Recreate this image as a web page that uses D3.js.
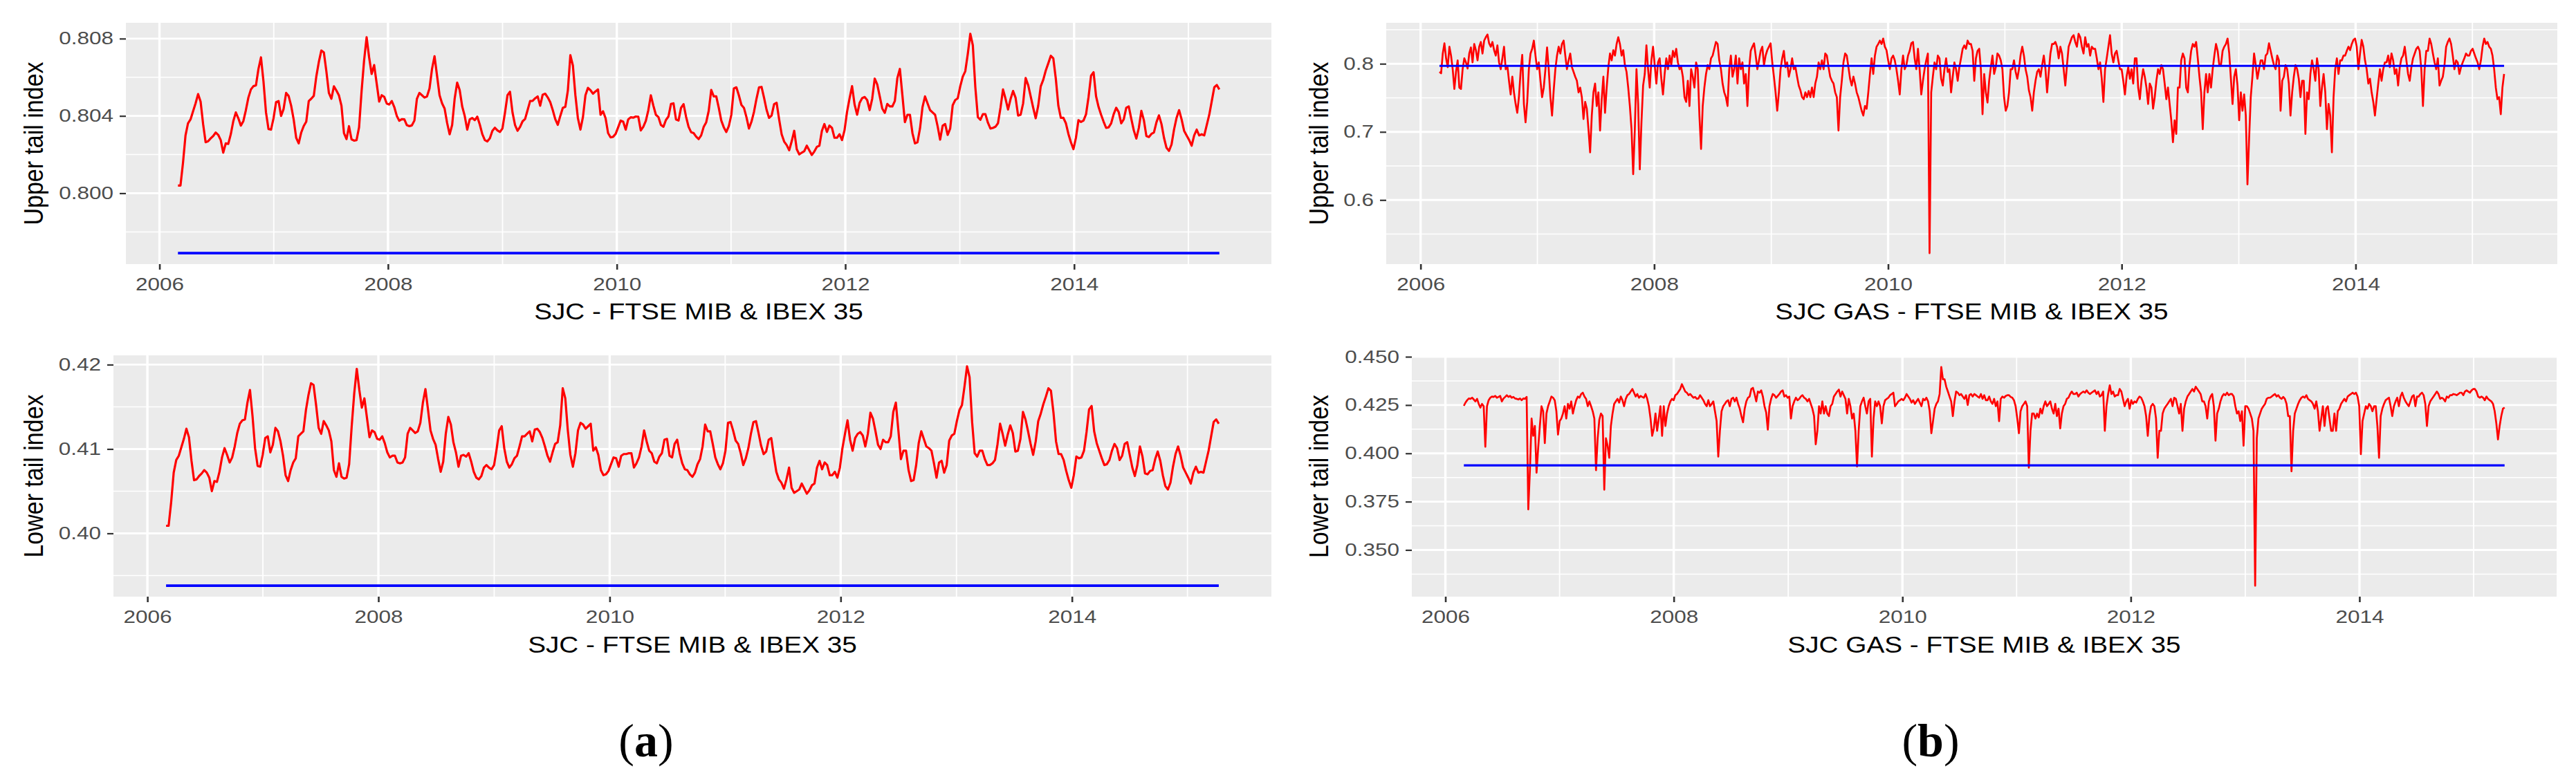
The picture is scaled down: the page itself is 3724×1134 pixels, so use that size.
<!DOCTYPE html>
<html>
<head>
<meta charset="utf-8">
<script src="https://cdn.jsdelivr.net/npm/d3@7"></script>
<style>
  body { margin: 0; background: #fff; }
  text { font-family: 'Liberation Sans', Arial, Helvetica, sans-serif; }
</style>
</head>
<body>
<svg id="container" width="3724" height="1134"></svg>

<script>
// observation window shared by all four series (values are evenly spaced in it)
const firstDay = '2006-03-01';
const lastDay = '2015-04-10';

const xTickYears = [2006, 2008, 2010, 2012, 2014];
const xMinorYears = [2007, 2009, 2011, 2013, 2015];

// static SJC tail dependence (blue lines)
const staticUpper = 0.7969;
const staticLower = 0.3938;

// (a) SJC - FTSE MIB & IBEX 35, upper tail
const sjcUpper = [
  0.80040, 0.80040, 0.80157, 0.80299, 0.80362, 0.80382, 0.80424, 0.80465, 0.80513, 0.80474,
  0.80358, 0.80264, 0.80269, 0.80284, 0.80296, 0.80314, 0.80302, 0.80275, 0.80210, 0.80258,
  0.80255, 0.80305, 0.80373, 0.80418, 0.80388, 0.80350, 0.80373, 0.80430, 0.80495, 0.80537,
  0.80554, 0.80558, 0.80643, 0.80703, 0.80578, 0.80418, 0.80332, 0.80329, 0.80388, 0.80471,
  0.80477, 0.80400, 0.80436, 0.80519, 0.80503, 0.80453, 0.80382, 0.80287, 0.80258, 0.80314,
  0.80348, 0.80370, 0.80477, 0.80489, 0.80504, 0.80604, 0.80679, 0.80738, 0.80729, 0.80631,
  0.80519, 0.80489, 0.80553, 0.80531, 0.80506, 0.80453, 0.80311, 0.80280, 0.80347, 0.80279,
  0.80272, 0.80275, 0.80341, 0.80528, 0.80687, 0.80807, 0.80703, 0.80617, 0.80663, 0.80568,
  0.80474, 0.80507, 0.80499, 0.80464, 0.80459, 0.80477, 0.80446, 0.80400, 0.80375, 0.80383,
  0.80382, 0.80352, 0.80347, 0.80351, 0.80376, 0.80489, 0.80519, 0.80507, 0.80495, 0.80501,
  0.80542, 0.80643, 0.80709, 0.80608, 0.80507, 0.80465, 0.80438, 0.80364, 0.80305, 0.80353,
  0.80489, 0.80572, 0.80534, 0.80449, 0.80400, 0.80329, 0.80382, 0.80389, 0.80378, 0.80396,
  0.80355, 0.80305, 0.80275, 0.80268, 0.80284, 0.80323, 0.80339, 0.80325, 0.80317, 0.80335,
  0.80416, 0.80507, 0.80525, 0.80418, 0.80353, 0.80323, 0.80343, 0.80372, 0.80384, 0.80430,
  0.80477, 0.80478, 0.80491, 0.80501, 0.80453, 0.80510, 0.80515, 0.80496, 0.80471, 0.80430,
  0.80383, 0.80354, 0.80400, 0.80442, 0.80447, 0.80531, 0.80714, 0.80661, 0.80507, 0.80388,
  0.80329, 0.80394, 0.80507, 0.80545, 0.80533, 0.80515, 0.80527, 0.80537, 0.80406, 0.80424,
  0.80388, 0.80311, 0.80289, 0.80292, 0.80307, 0.80341, 0.80376, 0.80370, 0.80329, 0.80382,
  0.80393, 0.80391, 0.80397, 0.80396, 0.80325, 0.80344, 0.80374, 0.80430, 0.80507, 0.80453,
  0.80406, 0.80394, 0.80353, 0.80344, 0.80379, 0.80397, 0.80462, 0.80465, 0.80382, 0.80376,
  0.80442, 0.80461, 0.80396, 0.80344, 0.80316, 0.80311, 0.80293, 0.80280, 0.80299, 0.80343,
  0.80367, 0.80426, 0.80534, 0.80501, 0.80501, 0.80442, 0.80376, 0.80341, 0.80317, 0.80347,
  0.80406, 0.80542, 0.80548, 0.80506, 0.80457, 0.80442, 0.80394, 0.80335, 0.80370, 0.80421,
  0.80489, 0.80548, 0.80550, 0.80494, 0.80432, 0.80390, 0.80402, 0.80461, 0.80468, 0.80382,
  0.80305, 0.80267, 0.80249, 0.80222, 0.80269, 0.80323, 0.80228, 0.80201, 0.80210, 0.80218,
  0.80246, 0.80222, 0.80198, 0.80216, 0.80240, 0.80246, 0.80323, 0.80358, 0.80317, 0.80350,
  0.80338, 0.80287, 0.80287, 0.80305, 0.80275, 0.80326, 0.80421, 0.80491, 0.80554, 0.80459,
  0.80406, 0.80468, 0.80492, 0.80498, 0.80482, 0.80430, 0.80489, 0.80593, 0.80563, 0.80501,
  0.80438, 0.80416, 0.80462, 0.80449, 0.80449, 0.80477, 0.80596, 0.80643, 0.80507, 0.80368,
  0.80406, 0.80406, 0.80311, 0.80258, 0.80264, 0.80335, 0.80446, 0.80501, 0.80465, 0.80430,
  0.80418, 0.80406, 0.80347, 0.80277, 0.80349, 0.80358, 0.80302, 0.80335, 0.80455, 0.80482,
  0.80491, 0.80553, 0.80603, 0.80631, 0.80721, 0.80825, 0.80766, 0.80548, 0.80394, 0.80380,
  0.80409, 0.80409, 0.80365, 0.80335, 0.80338, 0.80344, 0.80362, 0.80442, 0.80537, 0.80489,
  0.80433, 0.80487, 0.80529, 0.80494, 0.80402, 0.80406, 0.80465, 0.80596, 0.80560, 0.80501,
  0.80442, 0.80388, 0.80453, 0.80553, 0.80587, 0.80635, 0.80672, 0.80711, 0.80698, 0.80592,
  0.80453, 0.80390, 0.80390, 0.80362, 0.80307, 0.80264, 0.80228, 0.80287, 0.80378, 0.80369,
  0.80376, 0.80408, 0.80497, 0.80608, 0.80626, 0.80501, 0.80446, 0.80406, 0.80370, 0.80338,
  0.80341, 0.80362, 0.80409, 0.80442, 0.80420, 0.80362, 0.80382, 0.80442, 0.80449, 0.80385,
  0.80325, 0.80283, 0.80338, 0.80426, 0.80378, 0.80296, 0.80291, 0.80307, 0.80314, 0.80367,
  0.80403, 0.80358, 0.80287, 0.80235, 0.80219, 0.80252, 0.80330, 0.80390, 0.80430, 0.80382,
  0.80323, 0.80299, 0.80275, 0.80246, 0.80299, 0.80329, 0.80299, 0.80305, 0.80299, 0.80353,
  0.80406, 0.80477, 0.80548, 0.80560, 0.80537
];

// (a) SJC - FTSE MIB & IBEX 35, lower tail
const sjcLower = [
  0.4009, 0.4009, 0.4037, 0.4072, 0.4087, 0.4092, 0.4102, 0.4112, 0.4124, 0.4114,
  0.4086, 0.4063, 0.4064, 0.4068, 0.4071, 0.4075, 0.4072, 0.4066, 0.4050, 0.4062,
  0.4061, 0.4073, 0.4090, 0.4101, 0.4093, 0.4084, 0.4090, 0.4103, 0.4119, 0.4130,
  0.4134, 0.4135, 0.4155, 0.4170, 0.4139, 0.4101, 0.4080, 0.4079, 0.4093, 0.4113,
  0.4115, 0.4096, 0.4105, 0.4125, 0.4121, 0.4109, 0.4092, 0.4069, 0.4062, 0.4075,
  0.4084, 0.4089, 0.4115, 0.4118, 0.4121, 0.4146, 0.4164, 0.4178, 0.4176, 0.4152,
  0.4125, 0.4118, 0.4133, 0.4128, 0.4122, 0.4109, 0.4075, 0.4067, 0.4083, 0.4067,
  0.4065, 0.4066, 0.4082, 0.4127, 0.4166, 0.4195, 0.4170, 0.4149, 0.4160, 0.4137,
  0.4114, 0.4122, 0.4120, 0.4112, 0.4111, 0.4115, 0.4107, 0.4096, 0.4090, 0.4092,
  0.4092, 0.4084, 0.4083, 0.4084, 0.4090, 0.4118, 0.4125, 0.4122, 0.4119, 0.4121,
  0.4131, 0.4155, 0.4171, 0.4147, 0.4122, 0.4112, 0.4105, 0.4088, 0.4073, 0.4085,
  0.4118, 0.4138, 0.4129, 0.4108, 0.4096, 0.4079, 0.4092, 0.4093, 0.4091, 0.4095,
  0.4085, 0.4073, 0.4066, 0.4064, 0.4068, 0.4078, 0.4081, 0.4078, 0.4076, 0.4081,
  0.4100, 0.4122, 0.4127, 0.4101, 0.4085, 0.4078, 0.4082, 0.4089, 0.4092, 0.4103,
  0.4115, 0.4115, 0.4118, 0.4121, 0.4109, 0.4123, 0.4124, 0.4120, 0.4113, 0.4103,
  0.4092, 0.4085, 0.4096, 0.4106, 0.4108, 0.4128, 0.4172, 0.4160, 0.4122, 0.4093,
  0.4079, 0.4095, 0.4122, 0.4131, 0.4129, 0.4124, 0.4127, 0.4130, 0.4098, 0.4102,
  0.4093, 0.4075, 0.4069, 0.4070, 0.4074, 0.4082, 0.4090, 0.4089, 0.4079, 0.4092,
  0.4094, 0.4094, 0.4095, 0.4095, 0.4078, 0.4083, 0.4090, 0.4103, 0.4122, 0.4109,
  0.4098, 0.4095, 0.4085, 0.4083, 0.4091, 0.4095, 0.4111, 0.4112, 0.4092, 0.4090,
  0.4106, 0.4111, 0.4095, 0.4083, 0.4076, 0.4075, 0.4070, 0.4067, 0.4072, 0.4082,
  0.4088, 0.4103, 0.4129, 0.4121, 0.4121, 0.4106, 0.4090, 0.4082, 0.4076, 0.4083,
  0.4098, 0.4131, 0.4132, 0.4122, 0.4110, 0.4106, 0.4095, 0.4081, 0.4089, 0.4101,
  0.4118, 0.4132, 0.4133, 0.4119, 0.4104, 0.4094, 0.4097, 0.4111, 0.4113, 0.4092,
  0.4073, 0.4064, 0.4060, 0.4053, 0.4064, 0.4078, 0.4054, 0.4048, 0.4050, 0.4052,
  0.4059, 0.4053, 0.4047, 0.4051, 0.4057, 0.4059, 0.4078, 0.4086, 0.4076, 0.4084,
  0.4081, 0.4069, 0.4069, 0.4073, 0.4066, 0.4078, 0.4101, 0.4118, 0.4134, 0.4111,
  0.4098, 0.4113, 0.4118, 0.4120, 0.4116, 0.4103, 0.4118, 0.4143, 0.4136, 0.4121,
  0.4105, 0.4100, 0.4111, 0.4108, 0.4108, 0.4115, 0.4144, 0.4155, 0.4122, 0.4088,
  0.4098, 0.4098, 0.4075, 0.4062, 0.4063, 0.4081, 0.4107, 0.4121, 0.4112, 0.4103,
  0.4101, 0.4098, 0.4083, 0.4066, 0.4084, 0.4086, 0.4072, 0.4081, 0.4110, 0.4116,
  0.4118, 0.4133, 0.4146, 0.4152, 0.4174, 0.4198, 0.4185, 0.4132, 0.4095, 0.4091,
  0.4098, 0.4098, 0.4088, 0.4081, 0.4081, 0.4083, 0.4087, 0.4106, 0.4130, 0.4118,
  0.4104, 0.4117, 0.4128, 0.4119, 0.4097, 0.4098, 0.4112, 0.4144, 0.4135, 0.4121,
  0.4106, 0.4093, 0.4109, 0.4133, 0.4142, 0.4153, 0.4162, 0.4172, 0.4169, 0.4143,
  0.4109, 0.4094, 0.4094, 0.4087, 0.4074, 0.4063, 0.4054, 0.4069, 0.4091, 0.4089,
  0.4090, 0.4098, 0.4120, 0.4147, 0.4151, 0.4121, 0.4107, 0.4098, 0.4089, 0.4081,
  0.4082, 0.4087, 0.4098, 0.4106, 0.4101, 0.4087, 0.4092, 0.4106, 0.4108, 0.4093,
  0.4078, 0.4068, 0.4081, 0.4103, 0.4091, 0.4071, 0.4070, 0.4074, 0.4075, 0.4088,
  0.4097, 0.4086, 0.4069, 0.4056, 0.4052, 0.4060, 0.4079, 0.4094, 0.4103, 0.4092,
  0.4078, 0.4072, 0.4066, 0.4059, 0.4072, 0.4079, 0.4072, 0.4073, 0.4072, 0.4085,
  0.4098, 0.4115, 0.4132, 0.4135, 0.4130
];

// (b) SJC GAS - FTSE MIB & IBEX 35, upper tail
const gasUpper = [
  0.788, 0.786, 0.815, 0.830, 0.808, 0.795, 0.825, 0.812, 0.792, 0.763, 0.788, 0.805, 0.765, 0.763, 0.792, 0.808, 0.802, 0.793, 0.815, 0.824,
  0.802, 0.829, 0.820, 0.805, 0.825, 0.832, 0.815, 0.834, 0.839, 0.843, 0.830, 0.825, 0.832, 0.820, 0.812, 0.827, 0.802, 0.792, 0.808, 0.825,
  0.792, 0.797, 0.775, 0.755, 0.781, 0.758, 0.741, 0.728, 0.751, 0.788, 0.813, 0.741, 0.714,
  0.744, 0.792, 0.815, 0.822, 0.834, 0.812, 0.792, 0.802, 0.775, 0.751, 0.765, 0.792, 0.824, 0.792, 0.751, 0.724,
  0.761, 0.792, 0.812, 0.825, 0.815, 0.829, 0.834, 0.812, 0.792, 0.805, 0.815, 0.795, 0.788, 0.781, 0.775, 0.758,
  0.765, 0.751, 0.719, 0.744, 0.734, 0.704, 0.670, 0.724, 0.758, 0.771, 0.738, 0.758, 0.702, 0.748, 0.781, 0.728,
  0.765, 0.795, 0.815, 0.805, 0.820, 0.812, 0.829, 0.839, 0.829, 0.812, 0.820, 0.798, 0.788, 0.765, 0.738, 0.704,
  0.638, 0.704, 0.792, 0.741, 0.645,
  0.714, 0.768, 0.785, 0.827, 0.792, 0.765, 0.805, 0.825, 0.798, 0.771, 0.802, 0.808, 0.778, 0.755, 0.785, 0.808, 0.792, 0.812,
  0.798, 0.819, 0.810, 0.822, 0.802, 0.792, 0.795, 0.781, 0.751, 0.744, 0.775, 0.738, 0.792, 0.781, 0.765, 0.802, 0.792, 0.724,
  0.675,
  0.738, 0.765, 0.785, 0.798, 0.792, 0.808, 0.812, 0.822, 0.832, 0.829, 0.805, 0.792, 0.771, 0.758, 0.751, 0.738, 0.792, 0.812, 0.781, 0.792,
  0.812, 0.771, 0.808, 0.792, 0.802, 0.771, 0.785, 0.738, 0.792, 0.819, 0.825, 0.830, 0.812, 0.792, 0.805, 0.819, 0.825, 0.798, 0.812, 0.820,
  0.825, 0.830, 0.802, 0.781, 0.758, 0.731, 0.758, 0.792, 0.808, 0.819, 0.795, 0.802, 0.781, 0.792, 0.808, 0.792, 0.795, 0.781, 0.768, 0.761,
  0.751, 0.748, 0.758, 0.751, 0.760, 0.751, 0.765, 0.751, 0.771, 0.781, 0.802, 0.792, 0.805, 0.792, 0.815, 0.812, 0.795, 0.781, 0.775, 0.771,
  0.758, 0.751, 0.702, 0.751, 0.775, 0.802, 0.815, 0.812, 0.795, 0.778, 0.768, 0.781, 0.771, 0.758, 0.751, 0.741, 0.731, 0.724, 0.738, 0.734,
  0.758, 0.785, 0.808, 0.785, 0.812, 0.825, 0.829, 0.834, 0.829, 0.837, 0.825, 0.820, 0.805, 0.792, 0.808, 0.812, 0.805, 0.792, 0.775, 0.755,
  0.792, 0.812, 0.792, 0.798, 0.812, 0.819, 0.830, 0.832, 0.808, 0.792, 0.822, 0.792, 0.755, 0.775, 0.792, 0.805, 0.815,
  0.522,
  0.758, 0.781, 0.802, 0.792, 0.812, 0.808, 0.778, 0.768, 0.792, 0.808, 0.788, 0.792, 0.758, 0.781, 0.802, 0.792, 0.775, 0.795, 0.808, 0.822, 0.827, 0.822, 0.834, 0.829, 0.829,
  0.819, 0.775, 0.808, 0.819, 0.822, 0.792, 0.726, 0.785, 0.758, 0.743, 0.775, 0.795, 0.812, 0.785, 0.795, 0.815, 0.812, 0.805, 0.792, 0.751, 0.731, 0.738, 0.758, 0.792, 0.792,
  0.805, 0.788, 0.778, 0.792, 0.813, 0.825, 0.812, 0.792, 0.781, 0.761, 0.751, 0.731, 0.758, 0.775, 0.788, 0.792, 0.781, 0.798, 0.812, 0.792, 0.758, 0.788, 0.815, 0.829, 0.829,
  0.832, 0.825, 0.808, 0.825, 0.815, 0.792, 0.768, 0.798, 0.825, 0.832, 0.839, 0.842, 0.832, 0.825, 0.844, 0.839, 0.825, 0.815, 0.839, 0.825, 0.829, 0.812, 0.825, 0.822, 0.822,
  0.808, 0.792, 0.802, 0.778, 0.744, 0.792, 0.808, 0.825, 0.842, 0.815, 0.802, 0.815, 0.819, 0.805, 0.792, 0.792, 0.775, 0.755, 0.781, 0.795, 0.778, 0.792, 0.771, 0.808, 0.808,
  0.765, 0.748, 0.775, 0.792, 0.781, 0.765, 0.741, 0.771, 0.765, 0.734, 0.751, 0.775, 0.792, 0.785, 0.798, 0.792, 0.771, 0.748, 0.765, 0.741, 0.717, 0.685, 0.717, 0.697, 0.765, 0.765,
  0.805, 0.815, 0.808, 0.765, 0.758, 0.798, 0.819, 0.829, 0.825, 0.832, 0.808, 0.781, 0.758, 0.704, 0.758, 0.785, 0.758, 0.785, 0.765, 0.792, 0.812, 0.829, 0.819, 0.798, 0.798,
  0.819, 0.825, 0.829, 0.837, 0.815, 0.778, 0.741, 0.781, 0.792, 0.768, 0.717, 0.758, 0.731, 0.755, 0.724, 0.623, 0.690, 0.751, 0.781, 0.815, 0.798, 0.778, 0.792, 0.805, 0.805,
  0.792, 0.812, 0.815, 0.830, 0.819, 0.808, 0.798, 0.792, 0.812, 0.805, 0.731, 0.775, 0.781, 0.798, 0.792, 0.771, 0.724, 0.758, 0.781, 0.798, 0.792, 0.778, 0.751, 0.775, 0.775,
  0.697, 0.758, 0.748, 0.785, 0.805, 0.792, 0.775, 0.808, 0.792, 0.738, 0.765, 0.785, 0.758, 0.704, 0.741, 0.724, 0.670, 0.751, 0.792, 0.808, 0.785, 0.805, 0.805, 0.812, 0.812,
  0.819, 0.825, 0.820, 0.829, 0.835, 0.837, 0.825, 0.792, 0.815, 0.835, 0.825, 0.805, 0.792, 0.771, 0.778, 0.758, 0.744, 0.724, 0.748, 0.771, 0.792, 0.775, 0.792, 0.802, 0.802,
  0.812, 0.795, 0.815, 0.805, 0.785, 0.792, 0.768, 0.795, 0.808, 0.812, 0.825, 0.805, 0.785, 0.775, 0.795, 0.808, 0.815, 0.822, 0.825, 0.819, 0.792, 0.738, 0.792, 0.819, 0.819,
  0.837, 0.829, 0.815, 0.802, 0.792, 0.808, 0.768, 0.775, 0.781, 0.798, 0.825, 0.832, 0.837, 0.829, 0.812, 0.792, 0.805, 0.802, 0.785, 0.795, 0.802, 0.808, 0.815, 0.812, 0.812,
  0.819, 0.822, 0.815, 0.808, 0.802, 0.792, 0.805, 0.825, 0.837, 0.829, 0.832, 0.825, 0.822, 0.812, 0.792, 0.765, 0.748, 0.751, 0.726, 0.765, 0.785
];

// (b) SJC GAS - FTSE MIB & IBEX 35, lower tail
const gasLower = [
  0.4246, 0.4263, 0.4275, 0.4284, 0.4282, 0.4288, 0.4279, 0.4269, 0.4282, 0.4256, 0.4237, 0.4256, 0.4244,
  0.4034, 0.4244,
  0.4275, 0.4288, 0.4294, 0.4292, 0.4297, 0.4288, 0.4292, 0.4297, 0.4269, 0.4284, 0.4292, 0.4301,
  0.4292, 0.4297, 0.4288, 0.4292, 0.4284, 0.4282, 0.4279, 0.4284, 0.4275, 0.4284, 0.4282, 0.4292,
  0.3710, 0.3913, 0.4180, 0.4091, 0.4142, 0.3900, 0.4028, 0.4142, 0.4244, 0.4218,
  0.4053, 0.4206, 0.4244, 0.4269, 0.4294, 0.4288, 0.4275, 0.4218, 0.4097, 0.4167, 0.4180, 0.4206,
  0.4244, 0.4180, 0.4256, 0.4231, 0.4269, 0.4206, 0.4244, 0.4275, 0.4294, 0.4288, 0.4307, 0.4314,
  0.4294, 0.4282, 0.4244, 0.4269, 0.4244, 0.4218, 0.4180, 0.3913, 0.4078, 0.4174, 0.4206, 0.4193,
  0.3812, 0.4078,
  0.4040, 0.3977, 0.4142, 0.4206, 0.4256, 0.4269, 0.4282, 0.4263, 0.4294, 0.4275, 0.4244, 0.4282,
  0.4301, 0.4307, 0.4320, 0.4333, 0.4314, 0.4294, 0.4307, 0.4288, 0.4297, 0.4292, 0.4288, 0.4307,
  0.4282, 0.4244, 0.4180, 0.4091, 0.4129, 0.4206, 0.4117, 0.4180, 0.4244, 0.4091, 0.4244, 0.4142,
  0.4206, 0.4244, 0.4269, 0.4282, 0.4275, 0.4301, 0.4307, 0.4320, 0.4333, 0.4358, 0.4339, 0.4320,
  0.4314, 0.4301, 0.4307, 0.4297, 0.4288, 0.4292, 0.4282, 0.4284, 0.4301, 0.4288, 0.4275, 0.4256,
  0.4244, 0.4275, 0.4244, 0.4256, 0.4269, 0.4218, 0.4167,
  0.3983,
  0.4117, 0.4218, 0.4244, 0.4256, 0.4269, 0.4275, 0.4244, 0.4282, 0.4288, 0.4269, 0.4288, 0.4256,
  0.4231, 0.4193, 0.4161, 0.4231, 0.4269, 0.4288, 0.4294, 0.4333, 0.4339, 0.4307, 0.4269, 0.4320,
  0.4314, 0.4326, 0.4294, 0.4244, 0.4212,
  0.4123,
  0.4244, 0.4282, 0.4307, 0.4301, 0.4288, 0.4297, 0.4307, 0.4320, 0.4326, 0.4294,
  0.4301, 0.4288, 0.4294, 0.4180, 0.4244, 0.4269, 0.4288, 0.4275, 0.4282, 0.4294,
  0.4301, 0.4288, 0.4282, 0.4269, 0.4282, 0.4256, 0.4231, 0.4193, 0.4047, 0.4117,
  0.4244, 0.4206, 0.4269, 0.4206, 0.4244, 0.4206, 0.4193, 0.4244, 0.4256, 0.4294,
  0.4307, 0.4320, 0.4330, 0.4294, 0.4320, 0.4301, 0.4282, 0.4206, 0.4282, 0.4244,
  0.4180, 0.4206, 0.4117,
  0.3932,
  0.4117, 0.4244, 0.4269, 0.4288, 0.4244, 0.4206, 0.4269, 0.4282,
  0.3983,
  0.4180, 0.4269, 0.4244, 0.4269, 0.4244, 0.4155, 0.4244, 0.4275, 0.4282, 0.4288, 0.4301, 0.4307,
  0.4314, 0.4244, 0.4256, 0.4269, 0.4275, 0.4282,
  0.4275, 0.4288, 0.4307, 0.4294, 0.4282, 0.4263, 0.4275, 0.4256, 0.4269, 0.4282, 0.4263, 0.4244, 0.4282,
  0.4275, 0.4288, 0.4269, 0.4218, 0.4104, 0.4167, 0.4231, 0.4256, 0.4269, 0.4307, 0.4447, 0.4383, 0.4383,
  0.4345, 0.4320, 0.4294, 0.4269, 0.4193, 0.4269, 0.4320, 0.4314, 0.4301, 0.4307, 0.4294, 0.4282, 0.4301,
  0.4250, 0.4301, 0.4307, 0.4294, 0.4307, 0.4301, 0.4294, 0.4288, 0.4307, 0.4282, 0.4301, 0.4275, 0.4275,
  0.4294, 0.4269, 0.4256, 0.4282, 0.4244, 0.4269, 0.4167, 0.4282, 0.4294, 0.4288, 0.4297, 0.4301, 0.4301, 0.4292,
  0.4288, 0.4275, 0.4244, 0.4180, 0.4104, 0.4218, 0.4244, 0.4256, 0.4269, 0.4244, 0.3926, 0.4117, 0.4206, 0.4206,
  0.4180, 0.4206, 0.4186, 0.4231, 0.4206, 0.4244, 0.4269, 0.4244, 0.4256, 0.4269, 0.4231, 0.4206, 0.4256,
  0.4193, 0.4231, 0.4129, 0.4206, 0.4244, 0.4256, 0.4282, 0.4288, 0.4307, 0.4320, 0.4307, 0.4307,
  0.4314, 0.4294, 0.4307, 0.4314, 0.4320, 0.4314, 0.4326, 0.4314, 0.4307, 0.4314, 0.4320, 0.4326, 0.4307,
  0.4320, 0.4294, 0.4301, 0.4320, 0.4117, 0.4244, 0.4307, 0.4352, 0.4307, 0.4320, 0.4294, 0.4301, 0.4301,
  0.4333, 0.4320, 0.4282, 0.4244, 0.4269, 0.4282, 0.4231, 0.4275, 0.4256, 0.4269, 0.4263, 0.4282, 0.4294,
  0.4288, 0.4269, 0.4244, 0.4193, 0.4091, 0.4193, 0.4244, 0.4256, 0.4244, 0.4180, 0.3977, 0.4117, 0.4117,
  0.4206, 0.4231, 0.4244, 0.4256, 0.4269, 0.4282, 0.4244, 0.4288, 0.4282, 0.4244, 0.4206, 0.4256, 0.4117,
  0.4231, 0.4269, 0.4294, 0.4307, 0.4320, 0.4333, 0.4320, 0.4345, 0.4333, 0.4320, 0.4307, 0.4269, 0.4269,
  0.4244, 0.4180, 0.4269, 0.4294, 0.4307, 0.4244, 0.4066, 0.4206, 0.4231, 0.4269, 0.4294, 0.4307, 0.4301,
  0.4314, 0.4301, 0.4307, 0.4307, 0.4294, 0.4244, 0.4206, 0.4218, 0.4167, 0.4218, 0.4040, 0.4244, 0.4244,
  0.4231, 0.4206, 0.4180, 0.4117, 0.3315, 0.4078, 0.4180, 0.4206, 0.4231, 0.4244, 0.4256, 0.4282, 0.4288,
  0.4288, 0.4294, 0.4301, 0.4307, 0.4294, 0.4301, 0.4288, 0.4282, 0.4292, 0.4282, 0.4256, 0.4193, 0.4193,
  0.3907, 0.4117, 0.4206, 0.4231, 0.4256, 0.4275, 0.4288, 0.4294, 0.4288, 0.4301, 0.4282, 0.4275, 0.4269,
  0.4256, 0.4231, 0.4269, 0.4218, 0.4117, 0.4180, 0.4244, 0.4142, 0.4231, 0.4244, 0.4180, 0.4117, 0.4117,
  0.4206, 0.4117, 0.4218, 0.4231, 0.4256, 0.4269, 0.4282, 0.4269, 0.4294, 0.4301, 0.4307, 0.4314, 0.4307,
  0.4314, 0.4294, 0.4244, 0.3996, 0.4167, 0.4206, 0.4244, 0.4231, 0.4256, 0.4244, 0.4218, 0.4244, 0.4244,
  0.4142, 0.3977, 0.4193, 0.4231, 0.4256, 0.4275, 0.4282, 0.4288, 0.4244, 0.4193, 0.4244, 0.4269, 0.4288,
  0.4244, 0.4294, 0.4314, 0.4288, 0.4269, 0.4256, 0.4244, 0.4269, 0.4294, 0.4301, 0.4244, 0.4294, 0.4294,
  0.4307, 0.4314, 0.4301, 0.4256, 0.4142, 0.4244, 0.4269, 0.4282, 0.4294, 0.4307, 0.4320, 0.4307, 0.4282,
  0.4288, 0.4282, 0.4269, 0.4294, 0.4288, 0.4301, 0.4301, 0.4307, 0.4305, 0.4301, 0.4307, 0.4314, 0.4314,
  0.4301, 0.4320, 0.4326, 0.4320, 0.4314, 0.4326, 0.4333, 0.4333, 0.4320, 0.4294, 0.4288, 0.4294, 0.4288,
  0.4275, 0.4294, 0.4282, 0.4275, 0.4269, 0.4256, 0.4218, 0.4155, 0.4072, 0.4142, 0.4193, 0.4231, 0.4237
];

// y tick values (labelled) and minor grid values
const sjcUpperTicks = [0.800, 0.804, 0.808];
const sjcUpperMinor = [0.798, 0.802, 0.806];
const sjcLowerTicks = [0.40, 0.41, 0.42];
const sjcLowerMinor = [0.395, 0.405, 0.415];
const gasUpperTicks = [0.6, 0.7, 0.8];
const gasUpperMinor = [0.55, 0.65, 0.75, 0.85];
const gasLowerTicks = [0.350, 0.375, 0.400, 0.425, 0.450];
const gasLowerMinor = [0.3375, 0.3625, 0.3875, 0.4125, 0.4375];

const titleA = 'SJC - FTSE MIB & IBEX 35';
const titleB = 'SJC GAS - FTSE MIB & IBEX 35';

const svg = d3.select('#container');
const parseDay = d3.timeParse('%Y-%m-%d');
const t0 = parseDay(firstDay);
const t1 = parseDay(lastDay);

const panels = [
  { values: sjcUpper, level: staticUpper, ticks: sjcUpperTicks, minor: sjcUpperMinor, fmt: '.3f',
    yTitle: 'Upper tail index', xTitle: titleA, left: 182, right: 1838, top: 33, bottom: 382,
    yTitleX: 48, xTitleY: 450, redW: 3.2, blueW: 3.6 },
  { values: sjcLower, level: staticLower, ticks: sjcLowerTicks, minor: sjcLowerMinor, fmt: '.2f',
    yTitle: 'Lower tail index', xTitle: titleA, left: 164, right: 1838, top: 514, bottom: 863,
    yTitleX: 48, xTitleY: 932, redW: 3.2, blueW: 3.6 },
  { values: gasUpper, level: staticUpper, ticks: gasUpperTicks, minor: gasUpperMinor, fmt: '.1f',
    yTitle: 'Upper tail index', xTitle: titleB, left: 2004, right: 3697, top: 33, bottom: 382,
    yTitleX: 1906, xTitleY: 450, redW: 2.7, blueW: 3.2 },
  { values: gasLower, level: staticLower, ticks: gasLowerTicks, minor: gasLowerMinor, fmt: '.3f',
    yTitle: 'Lower tail index', xTitle: titleB, left: 2041, right: 3696, top: 515, bottom: 863,
    yTitleX: 1906, xTitleY: 932, redW: 2.7, blueW: 3.2 }
];

function drawPanel(p) {
  const n = p.values.length;
  const dateAt = d3.scaleLinear().domain([0, n - 1]).range([+t0, +t1]);
  const span = t1 - t0;

  // ggplot-style 5% expansion on both axes
  const x = d3.scaleTime()
    .domain([new Date(+t0 - span * 0.05), new Date(+t1 + span * 0.05)])
    .range([p.left, p.right]);
  const lo = Math.min(d3.min(p.values), p.level);
  const hi = Math.max(d3.max(p.values), p.level);
  const pad = (hi - lo) * 0.05;
  const y = d3.scaleLinear().domain([lo - pad, hi + pad]).range([p.bottom, p.top]);

  const g = svg.append('g');

  g.append('rect')
    .attr('x', p.left).attr('y', p.top)
    .attr('width', p.right - p.left).attr('height', p.bottom - p.top)
    .attr('fill', '#EBEBEB');

  const hLine = (vals, w) => g.append('g').selectAll('line').data(vals).join('line')
    .attr('x1', p.left).attr('x2', p.right)
    .attr('y1', d => y(d)).attr('y2', d => y(d))
    .attr('stroke', '#fff').attr('stroke-width', w);
  const vLine = (years, w) => g.append('g').selectAll('line').data(years).join('line')
    .attr('x1', d => x(new Date(d, 0, 1))).attr('x2', d => x(new Date(d, 0, 1)))
    .attr('y1', p.top).attr('y2', p.bottom)
    .attr('stroke', '#fff').attr('stroke-width', w);

  hLine(p.minor, 1.5);
  vLine(xMinorYears, 1.8);
  hLine(p.ticks, 2.9);
  vLine(xTickYears, 3.4);

  const line = d3.line()
    .x((d, i) => x(dateAt(i)))
    .y(d => y(d));

  g.append('path')
    .attr('d', line(p.values))
    .attr('fill', 'none')
    .attr('stroke', '#FF0000')
    .attr('stroke-width', p.redW)
    .attr('stroke-linejoin', 'round');

  g.append('path')
    .attr('d', d3.line()([[x(t0), y(p.level)], [x(t1), y(p.level)]]))
    .attr('fill', 'none')
    .attr('stroke', '#0000FF')
    .attr('stroke-width', p.blueW);

  // x axis
  const ax = g.append('g')
    .attr('transform', `translate(0,${p.bottom})`)
    .call(d3.axisBottom(x)
      .tickValues(xTickYears.map(yr => new Date(yr, 0, 1)))
      .tickFormat(d3.timeFormat('%Y'))
      .tickSize(8)
      .tickPadding(12));
  ax.select('.domain').remove();
  ax.attr('font-size', 25).attr('font-family', null);
  ax.selectAll('line').attr('stroke', '#333333').attr('stroke-width', 2.6);
  ax.selectAll('text').attr('fill', '#4D4D4D').attr('transform', 'scale(1.26,1)');

  // y axis
  const ay = g.append('g')
    .attr('transform', `translate(${p.left},0)`)
    .call(d3.axisLeft(y)
      .tickValues(p.ticks)
      .tickFormat(d3.format(p.fmt))
      .tickSize(9)
      .tickPadding(9));
  ay.select('.domain').remove();
  ay.attr('font-size', 25).attr('font-family', null);
  ay.selectAll('line').attr('stroke', '#333333').attr('stroke-width', 2.2);
  ay.selectAll('text')
    .attr('fill', '#4D4D4D')
    .attr('x', 0)
    .attr('transform', 'translate(-18,0) scale(1.26,1)');

  // titles
  g.append('text')
    .attr('transform', `translate(${(p.left + p.right) / 2},${p.xTitleY}) scale(1.14,1)`)
    .attr('text-anchor', 'middle')
    .attr('dy', '0.36em')
    .style('font-size', '34px')
    .attr('fill', '#000')
    .text(p.xTitle);

  g.append('text')
    .attr('transform', `translate(${p.yTitleX},${(p.top + p.bottom) / 2}) scale(1.14,1) rotate(-90)`)
    .attr('text-anchor', 'middle')
    .attr('dy', '0.36em')
    .style('font-size', '34px')
    .attr('fill', '#000')
    .text(p.yTitle);
}

panels.forEach(drawPanel);

// sub-figure captions
const captions = [{ letter: 'a', cx: 934 }, { letter: 'b', cx: 2791 }];
captions.forEach(c => {
  const t = svg.append('text')
    .attr('x', c.cx).attr('y', 1094)
    .attr('text-anchor', 'middle')
    .style('font-family', "'Liberation Serif', 'Times New Roman', serif")
    .style('font-size', '68px')
    .attr('fill', '#000');
  t.append('tspan').text('(');
  t.append('tspan').attr('font-weight', 'bold').text(c.letter);
  t.append('tspan').text(')');
});
</script>
</body>
</html>
